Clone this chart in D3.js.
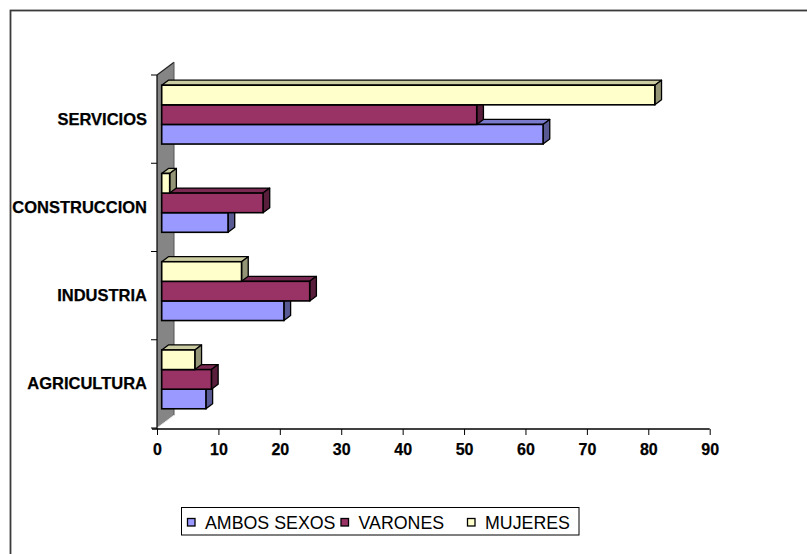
<!DOCTYPE html>
<html>
<head>
<meta charset="utf-8">
<script src="https://cdn.jsdelivr.net/npm/d3@7"></script>
<style>
  html, body { margin: 0; padding: 0; background: #fff; }
  svg { display: block; font-family: "Liberation Sans", Arial, sans-serif; }
</style>
</head>
<body>
<svg id="chart" width="807" height="554"></svg>
<script>
// ---- data ----
const categories = ["SERVICIOS", "CONSTRUCCION", "INDUSTRIA", "AGRICULTURA"];
const seriesNames = ["AMBOS SEXOS", "VARONES", "MUJERES"];
const ambosSexos = [62.1, 10.8, 19.9, 7.2];
const varones    = [51.3, 16.5, 24.1, 8.1];
const mujeres    = [80.3, 1.3, 13.0, 5.4];
const xTicks = [0, 10, 20, 30, 40, 50, 60, 70, 80, 90];

const seriesValues = [ambosSexos, varones, mujeres];
const colors = ["#9999FF", "#993366", "#FFFFCC"];

const svg = d3.select("#chart");

// outer frame
svg.append("rect").attr("x", 10.5).attr("y", 10.5).attr("width", 900).attr("height", 900)
  .attr("fill", "none").attr("stroke", "#3a3a3a").attr("stroke-width", 1.8);

// scales
const x = d3.scaleLinear().domain([0, 90]).range([157, 709.7]);
const y = d3.scaleBand().domain(categories).range([75, 428]).padding(0);
const bw = y.bandwidth();
const barH = bw / 4.5;
// order of bars within a group from top: MUJERES, VARONES, AMBOS
const inner = d3.scaleBand().domain([2, 1, 0]).range([0, barH * 3]);

// 3D geometry
const wallDx = 17, wallDy = -12.7;
const frontDx = 4.7, frontDy = -4.5;
const depthDx = 6.7, depthDy = -5;

// wall
const x0 = x(0), yTop = y.range()[0], yBot = y.range()[1];
svg.append("polygon")
  .attr("points", [[x0, yTop], [x0 + wallDx, yTop + wallDy], [x0 + wallDx, yBot + wallDy], [x0, yBot]].map(p => p.join(",")).join(" "))
  .attr("fill", "#858585").attr("stroke", "none");
svg.append("line").attr("x1", x0).attr("y1", yTop).attr("x2", x0 + wallDx).attr("y2", yTop + wallDy)
  .attr("stroke", "#222").attr("stroke-width", 1.2);
svg.append("line").attr("x1", x0 + wallDx).attr("y1", yTop + wallDy).attr("x2", x0 + wallDx).attr("y2", yBot + wallDy)
  .attr("stroke", "#555").attr("stroke-width", 1);
svg.append("line").attr("x1", x0).attr("y1", yBot).attr("x2", x0 + wallDx).attr("y2", yBot + wallDy)
  .attr("stroke", "#e8e8e8").attr("stroke-width", 1);

// category ticks and y axis line
const boundaries = categories.map(c => y(c)).concat([yBot]);
svg.selectAll("line.ctick").data(boundaries).enter().append("line")
  .attr("class", "ctick")
  .attr("x1", x0 - 6).attr("x2", x0).attr("y1", d => d).attr("y2", d => d)
  .attr("stroke", "#000").attr("stroke-width", 1);
svg.append("line").attr("x1", x0).attr("y1", yTop).attr("x2", x0).attr("y2", yBot + 1)
  .attr("stroke", "#000").attr("stroke-width", 1.2);

// x axis
const xAxis = d3.axisBottom(x).tickValues(xTicks).tickSize(6).tickPadding(8.6).tickFormat(d3.format("d"));
const gx = svg.append("g").attr("transform", `translate(0,${yBot + 1})`).call(xAxis);
gx.select(".domain").attr("d", `M${x0 - 5},0H${x(90)}`).attr("stroke", "#000").attr("stroke-width", 1.4);
gx.selectAll(".tick line").attr("stroke", "#000").attr("stroke-width", 1);
gx.selectAll(".tick text").attr("fill", "#000").attr("font-size", "16px").attr("font-weight", "bold")
  .attr("font-family", "'Liberation Sans', Arial, sans-serif")
  .attr("stroke", "#000").attr("stroke-width", 0.25);

// bars
function shade(c, k) {
  const r = d3.rgb(c);
  return d3.rgb(r.r * k, r.g * k, r.b * k).formatHex();
}
const groupTop = c => y(c) + (bw - barH * 3) / 2 + frontDy;
const gBars = svg.append("g");
categories.forEach((cat, ci) => {
  // bottom bar first so the upper bars cover top faces
  [0, 1, 2].forEach(si => {
    const v = seriesValues[si][ci];
    const xl = x(0) + frontDx, xr = x(v) + frontDx;
    const yt = groupTop(cat) + inner(si), yb = yt + barH;
    const g = gBars.append("g");
    g.append("polygon")
      .attr("points", [[xl, yt], [xl + depthDx, yt + depthDy], [xr + depthDx, yt + depthDy], [xr, yt]].map(p => p.join(",")).join(" "))
      .attr("fill", shade(colors[si], 0.8)).attr("stroke", "#000").attr("stroke-width", 1.3).attr("stroke-linejoin", "round");
    g.append("polygon")
      .attr("points", [[xr, yt], [xr + depthDx, yt + depthDy], [xr + depthDx, yb + depthDy], [xr, yb]].map(p => p.join(",")).join(" "))
      .attr("fill", shade(colors[si], 0.58)).attr("stroke", "#000").attr("stroke-width", 1.3).attr("stroke-linejoin", "round");
    g.append("rect").attr("x", xl).attr("y", yt).attr("width", xr - xl).attr("height", barH)
      .attr("fill", colors[si]).attr("stroke", "#000").attr("stroke-width", 1.6);
  });
});

// category labels
svg.selectAll("text.cat").data(categories).enter().append("text")
  .attr("class", "cat")
  .attr("x", 147).attr("y", d => y(d) + bw / 2 + 5.5)
  .attr("text-anchor", "end").attr("font-size", "16.5px").attr("font-weight", "bold").attr("fill", "#000")
  .attr("stroke", "#000").attr("stroke-width", 0.25)
  .text(d => d);

// legend
const lg = svg.append("g");
lg.append("rect").attr("x", 181.5).attr("y", 507.5).attr("width", 397.5).attr("height", 27.5)
  .attr("fill", "#fff").attr("stroke", "#000").attr("stroke-width", 1);
const legendX = [187.5, 341, 467.5];
seriesNames.forEach((name, i) => {
  lg.append("rect").attr("x", legendX[i]).attr("y", 518.5).attr("width", 7.5).attr("height", 7.5)
    .attr("fill", colors[i]).attr("stroke", "#000").attr("stroke-width", 1.3);
  lg.append("text").attr("x", legendX[i] + 17.5).attr("y", 529.3)
    .attr("font-size", "17.8px").attr("fill", "#000").text(name);
});
</script>
</body>
</html>
